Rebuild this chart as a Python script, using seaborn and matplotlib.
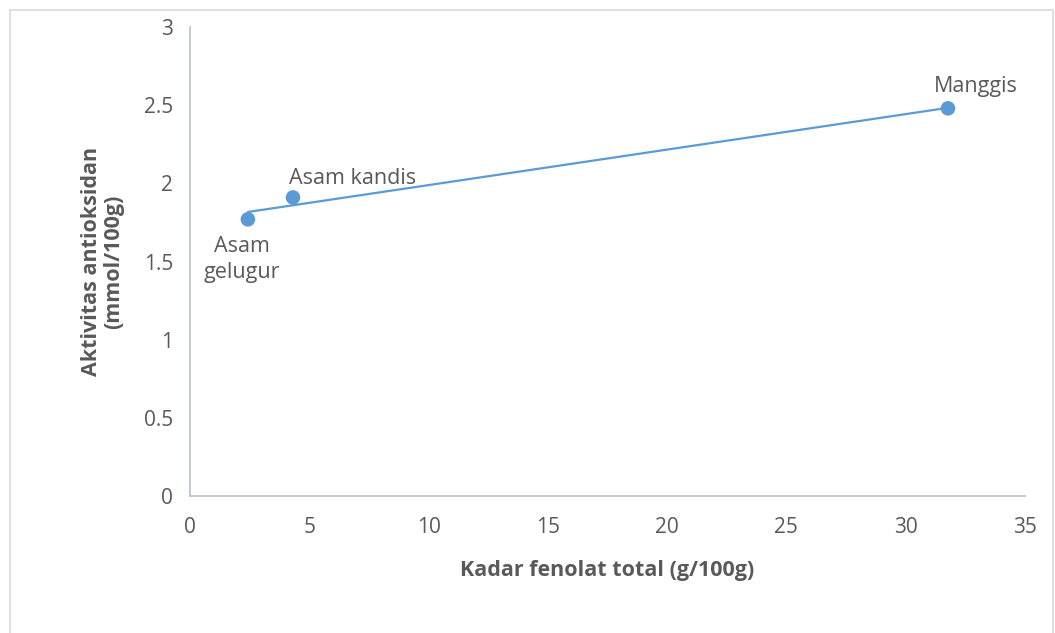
import numpy as np
import pandas as pd
import matplotlib.pyplot as plt
import matplotlib.patches as patches
import seaborn as sns

# data
names = ["Asam\ngelugur", "Asam kandis", "Manggis"]
fenolat = [2.43, 4.32, 31.77]        # g/100g
antioksidan = [1.77, 1.91, 2.48]     # mmol/100g
x_ticks = [0, 5, 10, 15, 20, 25, 30, 35]
y_ticks = [0, 0.5, 1, 1.5, 2, 2.5, 3]

df = pd.DataFrame({"nama": names, "fenolat": fenolat, "antioksidan": antioksidan})

sns.set_style("white")
plt.rcParams["font.family"] = ["Open Sans", "DejaVu Sans"]

blue = "#5B9BD5"
grey_txt = "#595959"
axis_col = "#BFC5CF"

fig = plt.figure(figsize=(10.55, 6.33), dpi=100)
ax = fig.add_axes([0.180, 0.2164, 0.7916, 0.7409])

# trendline (linear fit) plus the points
sns.regplot(data=df, x="fenolat", y="antioksidan", ax=ax, ci=None, truncate=True,
            scatter=False, line_kws={"color": blue, "lw": 1.6})
sns.scatterplot(data=df, x="fenolat", y="antioksidan", ax=ax, color=blue,
                s=110, edgecolor="none", zorder=3)

# point labels
offsets = {"Asam\ngelugur": (-4, -12, "center", "top"),
           "Asam kandis": (-3, 6, "left", "bottom"),
           "Manggis": (20, 8, "center", "bottom")}
for _, r in df.iterrows():
    dx, dy, ha, va = offsets[r["nama"]]
    ax.annotate(r["nama"], (r["fenolat"], r["antioksidan"]), xytext=(dx, dy),
                textcoords="offset points", ha=ha, va=va, fontsize=15.5,
                color=grey_txt, linespacing=1.3)

ax.set_xlim(0, 35)
ax.set_ylim(0, 3)
ax.set_xticks(x_ticks)
ax.set_yticks(y_ticks)
ax.set_xticklabels([str(t) for t in x_ticks])
ax.set_yticklabels([f"{t:g}" for t in y_ticks])
ax.tick_params(axis="both", length=0, labelsize=15, labelcolor=grey_txt)
ax.tick_params(axis="x", pad=15)
ax.tick_params(axis="y", pad=12)

for s in ["top", "right"]:
    ax.spines[s].set_visible(False)
for s in ["left", "bottom"]:
    ax.spines[s].set_color(axis_col)
    ax.spines[s].set_linewidth(1.3)

ax.set_xlabel("Kadar fenolat total (g/100g)", fontsize=15.5, fontweight="bold",
              color=grey_txt, labelpad=16)
ax.set_ylabel("Aktivitas antioksidan\n(mmol/100g)", fontsize=15.5, fontweight="bold",
              color=grey_txt, labelpad=14, linespacing=1.1)

# light border round the chart area
fig.patches.append(patches.Rectangle((10 / 1055, -0.05), 1043 / 1055, 1.05 - 10 / 633,
                                     transform=fig.transFigure, fill=False,
                                     edgecolor="#D9D9D9", lw=1.2))

fig.savefig("out.png", dpi=100)
